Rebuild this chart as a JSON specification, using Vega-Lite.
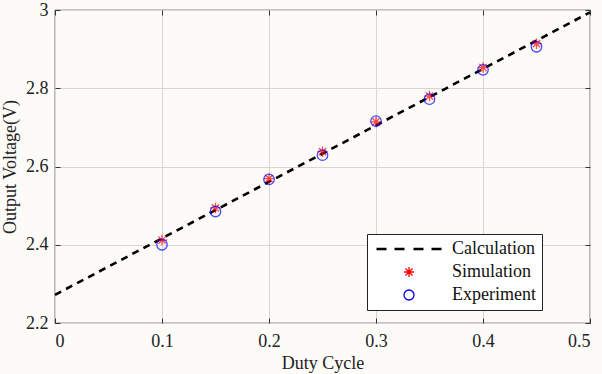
{
  "$schema": "https://vega.github.io/schema/vega-lite/v6.json",
  "width": 535,
  "height": 313,
  "autosize": {"type": "none"},
  "padding": {"left": 55, "top": 10, "right": 12, "bottom": 51},
  "background": "#fcfbf8",
  "config": {
    "font": "Liberation Serif",
    "view": {"stroke": "#222", "strokeWidth": 1.2},
    "axis": {
      "labelFont": "Liberation Serif",
      "labelFontSize": 18,
      "labelColor": "#222",
      "titleFont": "Liberation Serif",
      "titleFontSize": 18,
      "titleFontWeight": "normal",
      "titleColor": "#222",
      "gridColor": "#d6d6d6",
      "gridWidth": 1,
      "tickColor": "#333",
      "tickSize": -5,
      "domain": false
    },
    "legend": {
      "orient": "none",
      "legendX": 312,
      "legendY": 224,
      "strokeColor": "#222",
      "fillColor": "#ffffff",
      "padding": 6,
      "symbolSize": 100,
      "symbolOffset": 27,
      "labelOffset": 34,
      "labelFont": "Liberation Serif",
      "labelFontSize": 18,
      "labelColor": "#111",
      "rowPadding": 5
    }
  },
  "data": {
    "values": [
      {"series": "Calculation", "x": 0, "y": 2.272},
      {"series": "Calculation", "x": 0.5, "y": 2.994},
      {"series": "Simulation", "x": 0.1, "y": 2.412},
      {"series": "Simulation", "x": 0.15, "y": 2.494},
      {"series": "Simulation", "x": 0.2, "y": 2.569},
      {"series": "Simulation", "x": 0.25, "y": 2.638},
      {"series": "Simulation", "x": 0.3, "y": 2.714},
      {"series": "Simulation", "x": 0.35, "y": 2.78},
      {"series": "Simulation", "x": 0.4, "y": 2.853},
      {"series": "Simulation", "x": 0.45, "y": 2.914},
      {"series": "Experiment", "x": 0.1, "y": 2.4},
      {"series": "Experiment", "x": 0.15, "y": 2.485},
      {"series": "Experiment", "x": 0.2, "y": 2.567},
      {"series": "Experiment", "x": 0.25, "y": 2.629},
      {"series": "Experiment", "x": 0.3, "y": 2.716},
      {"series": "Experiment", "x": 0.35, "y": 2.772},
      {"series": "Experiment", "x": 0.4, "y": 2.847},
      {"series": "Experiment", "x": 0.45, "y": 2.906}
    ]
  },
  "layer": [
    {
      "transform": [{"filter": "datum.series === 'Calculation'"}],
      "mark": {"type": "line", "strokeDash": [7, 5.5], "strokeWidth": 2.6},
      "encoding": {
        "x": {"field": "x", "type": "quantitative", "scale": {"domain": [0, 0.5], "nice": false, "zero": false},
              "axis": {"title": "Duty Cycle", "values": [0, 0.1, 0.2, 0.3, 0.4, 0.5], "format": "~g", "labelPadding": 14, "titlePadding": 4}},
        "y": {"field": "y", "type": "quantitative", "scale": {"domain": [2.2, 3], "nice": false, "zero": false},
              "axis": {"title": "Output Voltage(V)", "values": [2.2, 2.4, 2.6, 2.8, 3], "format": "~g", "labelPadding": 12, "titlePadding": 6}},
        "color": {"field": "series", "type": "nominal",
                  "scale": {"domain": ["Calculation", "Simulation", "Experiment"], "range": ["#000000", "#ff0000", "#0000ff"]},
                  "legend": {"title": null,
                    "encode": {"symbols": {"update": {"strokeWidth": {"signal": "datum.value === 'Calculation' ? 2.6 : 1.3"}}}}}}
      }
    },
    {
      "transform": [{"filter": "datum.series !== 'Calculation'"}],
      "mark": {"type": "point", "filled": false, "strokeWidth": 1.3, "size": 110},
      "encoding": {
        "x": {"field": "x", "type": "quantitative", "axis": null},
        "y": {"field": "y", "type": "quantitative", "axis": null},
        "color": {"field": "series", "type": "nominal",
                  "legend": {"title": null,
                    "encode": {"symbols": {"update": {"strokeWidth": {"signal": "datum.value === 'Calculation' ? 2.6 : 1.3"}}}}}},
        "shape": {"field": "series", "type": "nominal",
                  "scale": {"domain": ["Calculation", "Simulation", "Experiment"],
                            "range": ["M-6.5,0H-4.5M-2.9,0H-0.9M0.9,0H2.9M4.5,0H6.5", "M0,-1V1M-1,0H1M-0.7,-0.7L0.7,0.7M-0.7,0.7L0.7,-0.7", "circle"]},
                  "legend": {"title": null,
                    "encode": {"symbols": {"update": {"strokeWidth": {"signal": "datum.value === 'Calculation' ? 2.6 : 1.3"}}}}}}
      }
    },
    {
      "mark": {"type": "point", "opacity": 0},
      "encoding": {
        "x": {"field": "x", "type": "quantitative",
              "axis": {"orient": "top", "values": [0, 0.1, 0.2, 0.3, 0.4, 0.5], "labels": false, "grid": false, "title": null}},
        "y": {"field": "y", "type": "quantitative",
              "axis": {"orient": "right", "values": [2.2, 2.4, 2.6, 2.8, 3], "labels": false, "grid": false, "title": null}}
      }
    }
  ],
  "resolve": {"axis": {"x": "independent", "y": "independent"}}
}
